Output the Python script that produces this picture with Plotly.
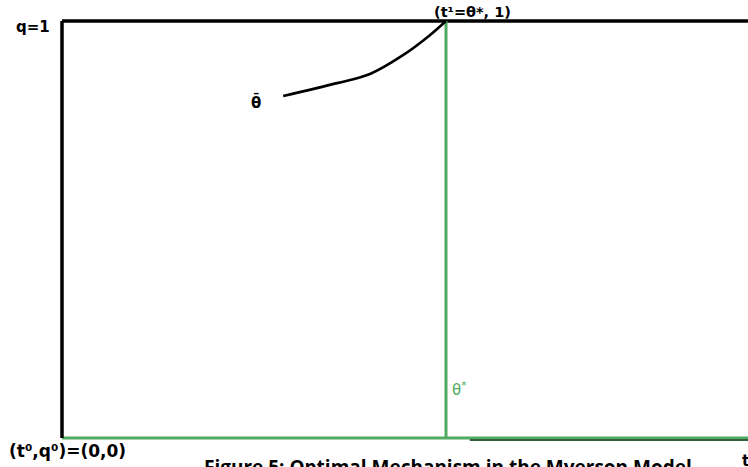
import plotly.graph_objects as go

# ---- data (in model units: t on x, q on y) ----
theta_star = 1.0          # t1 = theta*
q_max = 1.0               # q = 1
t_max = 1.8               # right end of drawn axes
dark_seg_start = 1.062    # start of the darker lower segment on the t axis

curve_t = [0.576, 0.716, 0.802, 0.888, 0.958, 1.0]
curve_q = [0.820, 0.851, 0.873, 0.918, 0.966, 1.0]

label_q1 = "q=1"
label_top = "(t\u00b9=\u03b8*, 1)"
label_bar = "\u03b8\u0304"
label_star = "\u03b8<sup>*</sup>"
label_origin = "(t\u2070,q\u2070)=(0,0)"
label_t = "t"
caption = "Figure 5: Optimal Mechanism in the Myerson Model"

GREEN = "rgb(80,170,96)"
DARKGREEN = "rgb(50,95,62)"
BLACK = "black"

W, H = 748, 467
# pixel geometry of the frame
px0, px1 = 62, 446   # t=0, t=theta*
py0, py1 = 438, 21   # q=0, q=1
sx = (px1 - px0) / theta_star
sy = (py0 - py1) / q_max


def X(px):
    return (px - px0) / sx


def Y(py):
    return (py0 - py) / sy


x_range = [X(0), X(W)]
y_range = [Y(H), Y(0)]

fig = go.Figure()

# bottom axis (green) and darker segment under it
fig.add_trace(go.Scatter(x=[0, t_max], y=[0, 0], mode="lines",
                         line=dict(color=GREEN, width=3), hoverinfo="skip"))
fig.add_trace(go.Scatter(x=[dark_seg_start, t_max], y=[-0.005, -0.005], mode="lines",
                         line=dict(color=DARKGREEN, width=2), hoverinfo="skip"))
# top line q=1
fig.add_trace(go.Scatter(x=[0, t_max], y=[q_max, q_max], mode="lines",
                         line=dict(color=BLACK, width=3.5), hoverinfo="skip"))
# left vertical
fig.add_trace(go.Scatter(x=[0, 0], y=[0, q_max], mode="lines",
                         line=dict(color=BLACK, width=3.5), hoverinfo="skip"))
# vertical at theta*
fig.add_trace(go.Scatter(x=[theta_star, theta_star], y=[0, q_max], mode="lines",
                         line=dict(color=GREEN, width=3), hoverinfo="skip"))
# curve
fig.add_trace(go.Scatter(x=curve_t, y=curve_q, mode="lines",
                         line=dict(color=BLACK, width=2.6, shape="spline", smoothing=1.0),
                         hoverinfo="skip"))

bold = "DejaVu Sans"
anns = [
    dict(text="<b>%s</b>" % label_q1, x=X(33), y=Y(27), size=15, color=BLACK),
    dict(text="<b>%s</b>" % label_top, x=X(472), y=Y(12), size=14.5, color=BLACK),
    dict(text="<b>%s</b>" % label_bar, x=X(256), y=Y(102), size=15, color=BLACK),
    dict(text=label_star, x=X(459), y=Y(389), size=15, color=GREEN),
    dict(text="<b>%s</b>" % label_origin, x=X(67), y=Y(451), size=17, color=BLACK),
]
for a in anns:
    fig.add_annotation(text=a["text"], x=a["x"], y=a["y"], xref="x", yref="y",
                       showarrow=False, xanchor="center", yanchor="middle",
                       font=dict(family=bold, size=a["size"], color=a["color"]))

fig.add_annotation(text="<b>%s</b>" % caption, x=X(448), y=Y(452), xref="x", yref="y",
                   showarrow=False, xanchor="center", yanchor="top",
                   font=dict(family="Open Sans", size=19, color=BLACK))
fig.add_annotation(text="<b>%s</b>" % label_t, x=X(745), y=Y(450), xref="x", yref="y",
                   showarrow=False, xanchor="center", yanchor="top",
                   font=dict(family=bold, size=15, color=BLACK))

fig.update_layout(
    width=W, height=H,
    margin=dict(l=0, r=0, t=0, b=0),
    paper_bgcolor="white", plot_bgcolor="white",
    showlegend=False,
    xaxis=dict(range=x_range, visible=False, fixedrange=True),
    yaxis=dict(range=y_range, visible=False, fixedrange=True),
)

fig.write_html(
    "out.html",
    config={"displayModeBar": False, "staticPlot": True},
    post_script="document.body.style.margin='0';document.body.style.overflow='hidden';",
)
